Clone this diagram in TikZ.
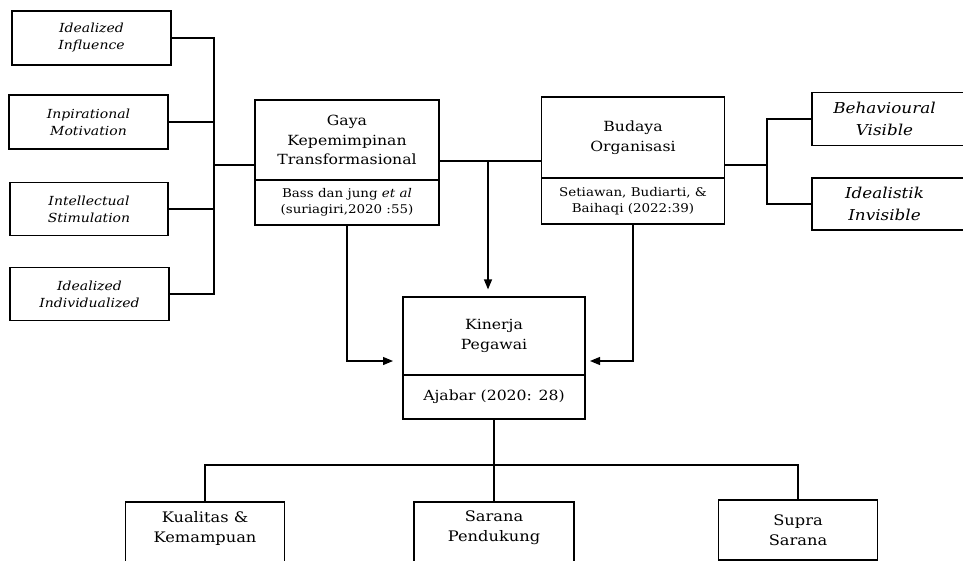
\documentclass[tikz,border=0pt]{standalone}
\usepackage{fontspec}
\setmainfont[FakeStretch=1.12]{DejaVu Serif}
\usetikzlibrary{arrows.meta}
\begin{document}
\begin{tikzpicture}[x=1pt,y=-1pt,
  line width=1.2pt,
  box/.style={draw, rectangle, inner sep=2pt, align=center},
  itbox/.style={box, font=\fontsize{12.5}{17}\selectfont\itshape},
  ritfont/.style={font=\fontsize{15}{22}\selectfont\itshape},
  mainbox/.style={box, font=\fontsize{14}{19.5}\selectfont},
  refbox/.style={box, font=\fontsize{12}{15.5}\selectfont},
  botbox/.style={box, font=\fontsize{14.5}{20}\selectfont},
  arr/.style={-{Triangle[length=10pt,width=8pt]}}
]
\useasboundingbox (0,0) rectangle (963,561);
\clip (0,0) rectangle (963,561);

% left boxes
\node[itbox, minimum width=159pt, minimum height=54pt] (L1) at (91.5,38) {Idealized\\Influence};
\node[itbox, minimum width=159pt, minimum height=54pt] (L2) at (88.5,122) {Inpirational\\Motivation};
\node[itbox, minimum width=158pt, minimum height=53pt] (L3) at (89,209) {Intellectual\\Stimulation};
\node[itbox, minimum width=159pt, minimum height=53pt] (L4) at (89.5,294) {Idealized\\Individualized};

% Gaya
\node[mainbox, minimum width=184pt, minimum height=80pt] (G) at (347,140) {Gaya\\Kepemimpinan\\Transformasional};
\node[refbox, minimum width=184pt, minimum height=45pt] (Gr) at (347,202.5) {Bass dan jung \textit{et al}\\(suriagiri,2020 :55)};

% Budaya
\node[mainbox, minimum width=183pt, minimum height=81pt] (B) at (633,137.5) {Budaya\\Organisasi};
\node[refbox, minimum width=183pt, minimum height=46pt] (Br) at (633,201) {Setiawan, Budiarti, \&\\Baihaqi (2022:39)};

% right boxes
\node[box, minimum width=163pt, minimum height=53pt, label={[ritfont, align=center, xshift=-9pt]center:{Behavioural\\Visible}}] (R1) at (893.5,119) {};
\node[box, minimum width=163pt, minimum height=52pt, label={[ritfont, align=center, xshift=-9pt]center:{Idealistik\\Invisible}}] (R2) at (893.5,204) {};

% Kinerja
\node[mainbox, minimum width=182pt, minimum height=78pt] (K) at (494,336) {Kinerja\\Pegawai};
\node[mainbox, minimum width=182pt, minimum height=44pt] (Kr) at (494,397) {Ajabar (2020: 28)};

% bottom boxes
\node[botbox, minimum width=159pt, minimum height=66pt, label={[botbox, draw=none, yshift=7pt]center:{Kualitas \&\\Kemampuan}}] (D1) at (205,535) {};
\node[botbox, minimum width=160pt, minimum height=66pt, label={[botbox, draw=none, yshift=7pt]center:{Sarana\\Pendukung}}] (D2) at (494,535) {};
\node[botbox, minimum width=159pt, minimum height=60pt] (D3) at (798,530) {Supra\\Sarana};

% coordinates
\coordinate (bl) at (214,165);
\coordinate (mid) at (488,161);
\coordinate (rb) at (767,165);
\coordinate (ka) at (393,361);
\coordinate (kb) at (590,361);
\coordinate (hb) at (494,465);

% left bracket
\draw (L1.east) -| (bl);
\draw (L2.east) -| (bl);
\draw (L3.east) -| (bl);
\draw (L4.east) -| (bl);
\draw (bl) -- (bl -| G.west);

% Gaya - Budaya
\draw (mid -| G.east) -- (mid -| B.west);
\draw[arr] (mid) -- ([yshift=7pt]mid |- K.north);

% right bracket
\draw (rb -| B.east) -- (rb);
\draw (R1.west) -| (rb);
\draw (R2.west) -| (rb);

% arrows to Kinerja
\draw[arr] (Gr.south) |- (ka);
\draw[arr] (Br.south) |- (kb);

% bottom tree
\draw (Kr.south) -- (hb);
\draw (D1.north) |- (hb) -| (D3.north);
\draw (hb) -- (D2.north);
\end{tikzpicture}
\end{document}
